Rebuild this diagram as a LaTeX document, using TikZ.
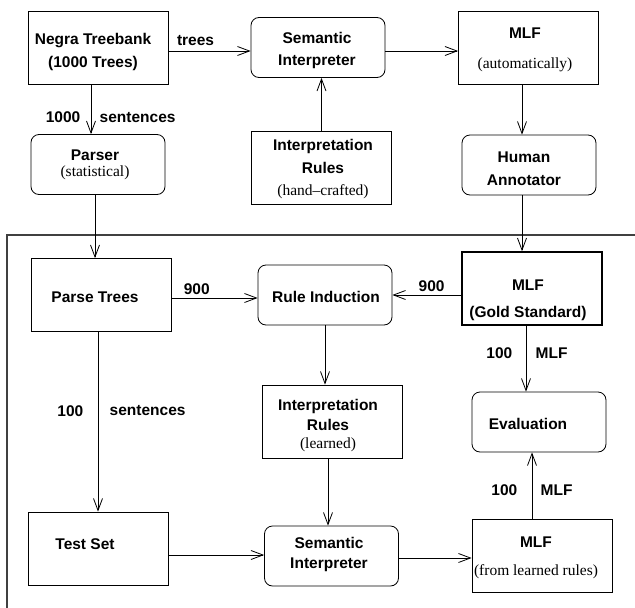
\documentclass[tikz,border=0pt]{standalone}
\usepackage{fontspec}
\setmainfont{Liberation Sans}
\newfontfamily\serifpart{Liberation Serif}
\usetikzlibrary{arrows.meta}

\newcommand{\remark}[1]{{\serifpart\mdseries #1}}

\begin{document}
\begin{tikzpicture}[x=1pt,y=-1pt,
	font=\fontsize{15.5}{23}\selectfont\bfseries,
	plainbox/.style={draw,rectangle,line width=0.8pt,minimum width=140pt,minimum height=73pt,inner sep=0pt},
	roundbox/.style={draw,rectangle,rounded corners=8pt,line width=0.8pt,minimum width=134pt,minimum height=60pt,inner sep=0pt},
	boxtext/.style={align=center,inner sep=0pt},
	flow/.style={-{Straight Barb[length=12pt,width=9pt]},line width=0.8pt}]
	
	% Page size
	\useasboundingbox (0,0) rectangle (635,608);
	
	% Upper part: hand-crafted rules
	\node[plainbox] (negra) at (98,47.5) {};
	\node[boxtext] (negratext) at (93,51.5) {Negra Treebank\\(1000 Trees)};
	\node[roundbox] (seminterp) at (318,47.5) {};
	\node[boxtext] (seminterptext) at (317,50) {Semantic\\[-1pt]Interpreter};
	\node[plainbox] (mlfauto) at (528.5,47.5) {};
	\node[boxtext] (mlfautotext) at (525,50) {MLF\\[7pt]\remark{(automatically)}};
	\node[roundbox] (parser) at (98,164.5) {};
	\node[boxtext] (parsertext) at (95,165) {Parser\\[-7.5pt]\remark{(statistical)}};
	\node[plainbox] (rulesmanual) at (321.5,167.5) {};
	\node[boxtext] (rulesmanualtext) at (323,169.5) {Interpretation\\Rules\\[-1pt]\remark{(hand–crafted)}};
	\node[roundbox] (annotator) at (529,165) {};
	\node[boxtext] (annotatortext) at (524,168.5) {Human\\Annotator};
	
	% Lower part: learned rules
	\draw[line width=1.2pt,black!75] (635,235) -- (7,235) -- (7,608);
	\node[plainbox] (parsetrees) at (101.5,295) {};
	\node[boxtext] (parsetreestext) at (95,297) {Parse Trees};
	\node[roundbox] (ruleinduction) at (325,295) {};
	\node[boxtext] (ruleinductiontext) at (326,297) {Rule Induction};
	\node[plainbox,line width=1.6pt] (mlfgold) at (532,288.5) {};
	\node[boxtext] (mlfgoldtext) at (528,300.5) {MLF\\[4pt](Gold Standard)};
	\node[plainbox] (ruleslearned) at (332,421.5) {};
	\node[boxtext] (ruleslearnedtext) at (328,426) {Interpretation\\[-3pt]Rules\\[-5pt]\remark{(learned)}};
	\node[roundbox] (evaluation) at (539,422) {};
	\node[boxtext] (evaluationtext) at (528,424) {Evaluation};
	\node[plainbox] (testset) at (98,548.5) {};
	\node[boxtext] (testsettext) at (85,544) {Test Set};
	\node[roundbox] (seminterptwo) at (331.5,556) {};
	\node[boxtext] (seminterptwotext) at (329,554) {Semantic\\[-3pt]Interpreter};
	\node[plainbox] (mlflearned) at (542,555.5) {};
	\node[boxtext] (mlflearnedtext) at (536,558) {MLF\\[5pt]\remark{(from learned rules)}};
	
	% Arrows, upper part
	\draw[flow] ([yshift=-3.5pt]negra.east) -- ([yshift=-3.5pt]negra.east -| seminterp.west)
		node[above=2pt,pos=0.33] {trees};
	\draw[flow] ([yshift=-3.5pt]seminterp.east) -- ([yshift=-3.5pt]seminterp.east -| mlfauto.west);
	\draw[flow] ([xshift=-7pt]negra.south) -- ([xshift=-7pt]negra.south |- parser.north)
		node[pos=0.66,left=7pt] {1000} node[pos=0.66,right=5pt] {sentences};
	\draw[flow] (rulesmanual.north) -- (rulesmanual.north |- seminterp.south);
	\draw[flow] ([xshift=-6.5pt]mlfauto.south) -- ([xshift=-6.5pt]mlfauto.south |- annotator.north);
	\draw[flow] ([xshift=-3pt]parser.south) -- ([xshift=-3pt]parser.south |- parsetrees.north);
	\draw[flow] ([xshift=-7pt]annotator.south) -- ([xshift=-7pt]annotator.south |- mlfgold.north);
	
	% Arrows, lower part
	\draw[flow] ([yshift=-3pt]parsetrees.east) -- ([yshift=-3pt]parsetrees.east -| ruleinduction.west)
		node[above,pos=0.29] {900};
	\draw[flow] ([yshift=-6.5pt]mlfgold.west) -- ([yshift=-6.5pt]mlfgold.west -| ruleinduction.east)
		node[above,pos=0.43] {900};
	\draw[flow] (ruleinduction.south) -- (ruleinduction.south |- ruleslearned.north);
	\draw[flow] ([xshift=-6pt]mlfgold.south) -- ([xshift=-6pt]mlfgold.south |- evaluation.north)
		node[pos=0.42,left=10pt] {100} node[pos=0.42,right=6pt] {MLF};
	\draw[flow] ([xshift=-3.5pt]parsetrees.south) -- ([xshift=-3.5pt]parsetrees.south |- testset.north)
		node[pos=0.44,left=11pt] {100} node[pos=0.44,right=8pt] {sentences};
	\draw[flow] ([yshift=-6.5pt]testset.east) -- ([yshift=-6.5pt]testset.east -| seminterptwo.west);
	\draw[flow] ([xshift=-4pt]ruleslearned.south) -- ([xshift=-4pt]ruleslearned.south |- seminterptwo.north);
	\draw[flow] ([yshift=-2pt]seminterptwo.east) -- ([yshift=-2pt]seminterptwo.east -| mlflearned.west);
	\draw[flow] ([xshift=-10pt]mlflearned.north) -- ([xshift=-10pt]mlflearned.north |- evaluation.south)
		node[pos=0.43,left=11pt] {100} node[pos=0.43,right=5pt] {MLF};
\end{tikzpicture}
\end{document}
